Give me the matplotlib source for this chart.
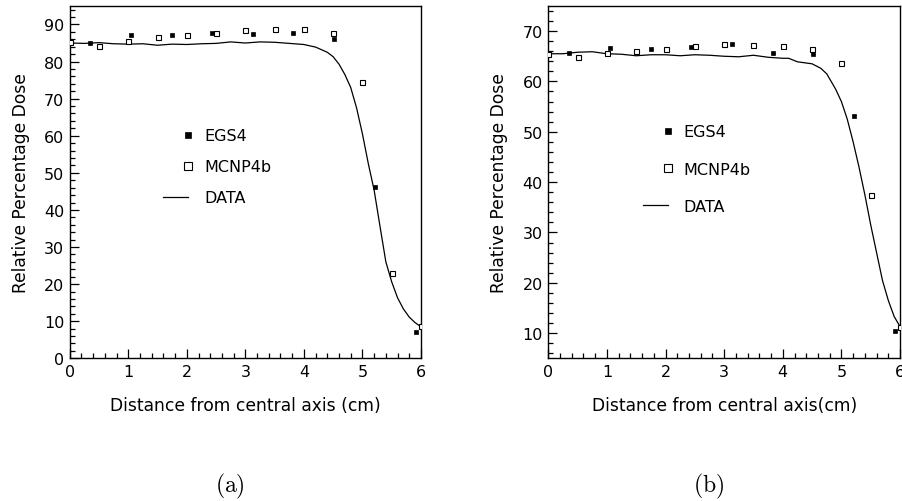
import matplotlib
matplotlib.use("Agg")
import matplotlib.pyplot as plt
from matplotlib.lines import Line2D
from matplotlib.legend_handler import HandlerLine2DCompound
from matplotlib.ticker import MultipleLocator

# panel (a)
egs_x_a = [0.35, 1.04, 1.74, 2.43, 3.13, 3.82, 4.52, 5.21, 5.91]
egs_y_a = [85.0, 87.2, 87.1, 87.6, 87.4, 87.6, 86.2, 46.3, 7.2]
mcnp_x_a = [0.0, 0.5, 1.0, 1.5, 2.0, 2.5, 3.0, 3.5, 4.0, 4.5, 5.0, 5.5, 6.0]
mcnp_y_a = [85.2, 84.2, 85.6, 86.5, 87.2, 87.8, 88.6, 88.9, 88.9, 87.6, 74.4, 22.9, 8.8]
data_x_a = [0.0, 0.25, 0.5, 0.75, 1.0, 1.25, 1.5, 1.75, 2.0, 2.25, 2.5, 2.75, 3.0,
            3.25, 3.5, 3.75, 4.0, 4.2, 4.4, 4.5, 4.6, 4.7, 4.8, 4.9, 5.0, 5.1,
            5.2, 5.3, 5.4, 5.5, 5.6, 5.7, 5.8, 5.9, 6.0]
data_y_a = [85.0, 84.9, 85.1, 84.8, 84.7, 84.8, 84.4, 84.7, 84.6, 84.8, 84.9, 85.3, 85.0,
            85.3, 85.2, 84.9, 84.6, 83.9, 82.5, 81.3, 79.3, 76.5, 73.0, 67.5, 60.5, 52.5,
            45.3, 35.6, 26.0, 20.6, 16.3, 13.3, 11.1, 9.6, 8.5]

# panel (b)
egs_x_b = [0.36, 1.05, 1.75, 2.44, 3.13, 3.83, 4.52, 5.22, 5.92]
egs_y_b = [65.6, 66.6, 66.5, 66.9, 67.5, 65.7, 65.5, 53.2, 10.4]
mcnp_x_b = [0.0, 0.5, 1.0, 1.5, 2.0, 2.5, 3.0, 3.5, 4.0, 4.5, 5.0, 5.5, 6.0]
mcnp_y_b = [65.5, 64.8, 65.6, 66.0, 66.4, 67.0, 67.5, 67.3, 67.0, 66.5, 63.6, 37.5, 11.2]
data_x_b = [0.0, 0.25, 0.5, 0.75, 1.0, 1.25, 1.5, 1.75, 2.0, 2.25, 2.5, 2.75, 3.0,
            3.25, 3.5, 3.75, 4.0, 4.1, 4.25, 4.5, 4.65, 4.75, 4.9, 5.0, 5.1, 5.2,
            5.3, 5.4, 5.5, 5.6, 5.7, 5.8, 5.9, 6.0]
data_y_b = [65.5, 65.5, 65.8, 65.9, 65.5, 65.4, 65.1, 65.3, 65.3, 65.1, 65.3, 65.2, 65.0,
            64.9, 65.2, 64.8, 64.6, 64.6, 63.9, 63.5, 62.6, 61.5, 58.5, 56.0, 52.5, 48.0,
            43.0, 37.5, 31.5, 26.0, 20.5, 16.5, 13.3, 11.3]

labels = ["EGS4", "MCNP4b", "DATA"]
x_labels = ["Distance from central axis (cm)", "Distance from central axis(cm)"]
y_label = "Relative Percentage Dose"
captions = ["(a)", "(b)"]

plt.rcParams['font.family'] = ['DejaVu Sans']
plt.rcParams['mathtext.fontset'] = 'cm'


class MarkerRight(HandlerLine2DCompound):
    # legend marker sits at the right end of the handle, like PAW does
    def get_xdata(self, legend, xdescent, ydescent, width, height, fontsize):
        xdata, _ = super().get_xdata(legend, xdescent, ydescent, width, height, fontsize)
        return xdata, [xdata[-1]]


fig = plt.figure(figsize=(9.03, 5.02), dpi=100)
ax_a = fig.add_axes([0.0772, 0.2843, 0.389, 0.7019])
ax_b = fig.add_axes([0.6072, 0.2843, 0.3895, 0.7019])

panels = [
    (ax_a, egs_x_a, egs_y_a, mcnp_x_a, mcnp_y_a, data_x_a, data_y_a, (0, 95), (0.266, 0.653), 1.0),
    (ax_b, egs_x_b, egs_y_b, mcnp_x_b, mcnp_y_b, data_x_b, data_y_b, (5, 75), (0.269, 0.664), 1.4),
]

for i, (ax, ex, ey, mx, my, dx, dy, ylim, anchor, lspace) in enumerate(panels):
    ax.plot(dx, dy, color='black', lw=0.9, label=labels[2], zorder=2)
    ax.plot(ex, ey, ls='none', marker='s', ms=3.0, mfc='black', mec='black', mew=0.5,
            label=labels[0], zorder=3)
    ax.plot(mx, my, ls='none', marker='s', ms=3.6, mfc='white', mec='black', mew=0.8,
            label=labels[1], zorder=3)

    ax.set_xlim(0, 6)
    ax.set_ylim(*ylim)
    ax.xaxis.set_major_locator(MultipleLocator(1))
    ax.xaxis.set_minor_locator(MultipleLocator(0.2))
    ax.yaxis.set_major_locator(MultipleLocator(10))
    ax.yaxis.set_minor_locator(MultipleLocator(2))
    ax.tick_params(which='both', direction='in', top=False, right=False,
                   width=0.9, labelsize=11.5, colors='black')
    ax.tick_params(which='major', length=6.5, pad=4)
    ax.tick_params(which='minor', length=3.5)
    for s in ax.spines.values():
        s.set_linewidth(1.0)

    ax.set_xlabel(x_labels[i], fontsize=12.3, labelpad=12)
    ax.set_ylabel(y_label, fontsize=12.3, labelpad=10)

    h, l = ax.get_legend_handles_labels()
    order = [1, 2, 0]
    ax.legend([h[k] for k in order], [l[k] for k in order], loc='upper left',
              bbox_to_anchor=anchor, frameon=False, fontsize=11.5, borderpad=0,
              borderaxespad=0, handlelength=1.55, handletextpad=1.0,
              labelspacing=lspace, markerscale=1.6,
              handler_map={Line2D: MarkerRight()})

    bb = ax.get_position()
    fig.text(bb.x0 + bb.width / 2 - 0.017, 0.03, r'$\mathrm{' + captions[i] + '}$',
             ha='center', va='center', fontsize=17)

fig.savefig("out.png", dpi=100)
